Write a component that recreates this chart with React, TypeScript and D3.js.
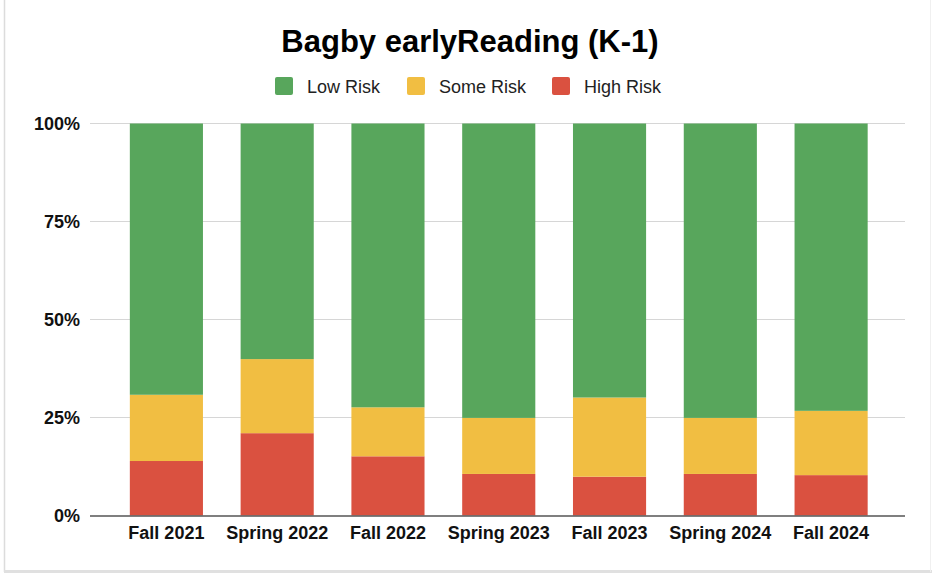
import React, { useRef, useEffect } from 'react';
import * as d3 from 'd3';

// terms
const terms = ['Fall 2021', 'Spring 2022', 'Fall 2022', 'Spring 2023', 'Fall 2023', 'Spring 2024', 'Fall 2024'];

// percentages per risk band
const highRisk = [13.9, 21.0, 15.1, 10.6, 9.9, 10.6, 10.3];
const someRisk = [16.9, 18.9, 12.5, 14.3, 20.2, 14.3, 16.4];
const lowRisk = terms.map((_, i) => +(100 - highRisk[i] - someRisk[i]).toFixed(1));

const seriesNames = ['Low Risk', 'Some Risk', 'High Risk'];
const seriesColors = ['#58a65c', '#f1be42', '#da5140'];
const yTicks = [0, 25, 50, 75, 100];

const App = () => {
  const svgRef = useRef<SVGSVGElement>(null);

  useEffect(() => {
    const svg = d3.select(svgRef.current);
    svg.selectAll('*').remove();

    const W = 932, H = 573;
    const font = '"Liberation Sans", Arial, sans-serif';

    svg.append('rect').attr('width', W).attr('height', H).attr('fill', '#fff');

    // frame edges
    svg.append('line').attr('x1', 4.5).attr('x2', 4.5).attr('y1', 0).attr('y2', 572)
      .attr('stroke', '#dcdcdc').attr('stroke-width', 1.5);
    svg.append('rect').attr('x', 4).attr('y', 570).attr('width', W - 4).attr('height', 3).attr('fill', '#e0e0e0');
    svg.append('line').attr('x1', 930.5).attr('x2', 930.5).attr('y1', 0).attr('y2', 572)
      .attr('stroke', '#f0f0f0').attr('stroke-width', 1);

    const table = terms.map((t, i) => ({ term: t, high: highRisk[i], some: someRisk[i], low: lowRisk[i] }));
    const stack = d3.stack<any>().keys(['high', 'some', 'low'])(table);

    const x = d3.scaleBand().domain(terms).range([111, 886.5]).paddingInner(0.34).paddingOuter(0.17);
    const y = d3.scaleLinear().domain([0, 100]).range([515.5, 123.5]);

    // gridlines
    svg.append('g').selectAll('line').data(yTicks.filter(d => d > 0)).enter().append('line')
      .attr('x1', 90).attr('x2', 905)
      .attr('y1', d => y(d)).attr('y2', d => y(d))
      .attr('stroke', '#d6d6d6').attr('stroke-width', 1);

    // y labels
    svg.append('g').selectAll('text').data(yTicks).enter().append('text')
      .attr('x', 80).attr('y', d => y(d) + 6.5)
      .attr('text-anchor', 'end')
      .attr('font-family', font).attr('font-size', 18).attr('font-weight', 'bold')
      .attr('fill', '#111')
      .text(d => `${d}%`);

    const colorOf: Record<string, string> = { high: seriesColors[2], some: seriesColors[1], low: seriesColors[0] };

    stack.forEach(layer => {
      svg.append('g').selectAll('rect').data(layer).enter().append('rect')
        .attr('x', d => x(d.data.term)!)
        .attr('width', x.bandwidth())
        .attr('y', d => y(d[1]))
        .attr('height', d => y(d[0]) - y(d[1]))
        .attr('fill', colorOf[layer.key]);
    });

    // baseline
    svg.append('line').attr('x1', 90).attr('x2', 905)
      .attr('y1', y(0) + 0.5).attr('y2', y(0) + 0.5)
      .attr('stroke', '#555').attr('stroke-width', 1.5);

    // x labels
    svg.append('g').selectAll('text').data(terms).enter().append('text')
      .attr('x', d => x(d)! + x.bandwidth() / 2).attr('y', 539)
      .attr('text-anchor', 'middle')
      .attr('font-family', font).attr('font-size', 18).attr('font-weight', 'bold')
      .attr('fill', '#111')
      .text(d => d);

    // title
    svg.append('text').attr('x', 470).attr('y', 52)
      .attr('text-anchor', 'middle')
      .attr('font-family', font).attr('font-size', 31).attr('font-weight', 'bold')
      .attr('fill', '#000')
      .text('Bagby earlyReading (K-1)');

    // legend
    const legendX = [275, 407, 552];
    const lg = svg.append('g').selectAll('g').data(seriesNames).enter().append('g')
      .attr('transform', (_, i) => `translate(${legendX[i]},77)`);
    lg.append('rect').attr('width', 18).attr('height', 18).attr('rx', 2)
      .attr('fill', (_, i) => seriesColors[i]);
    lg.append('text').attr('x', 32).attr('y', 15.5)
      .attr('font-family', font).attr('font-size', 18).attr('fill', '#222')
      .text(d => d);
  }, []);

  return <svg ref={svgRef} width={932} height={573} style={{ position: 'absolute', left: 0, top: 0 }} />;
};

export default App;
